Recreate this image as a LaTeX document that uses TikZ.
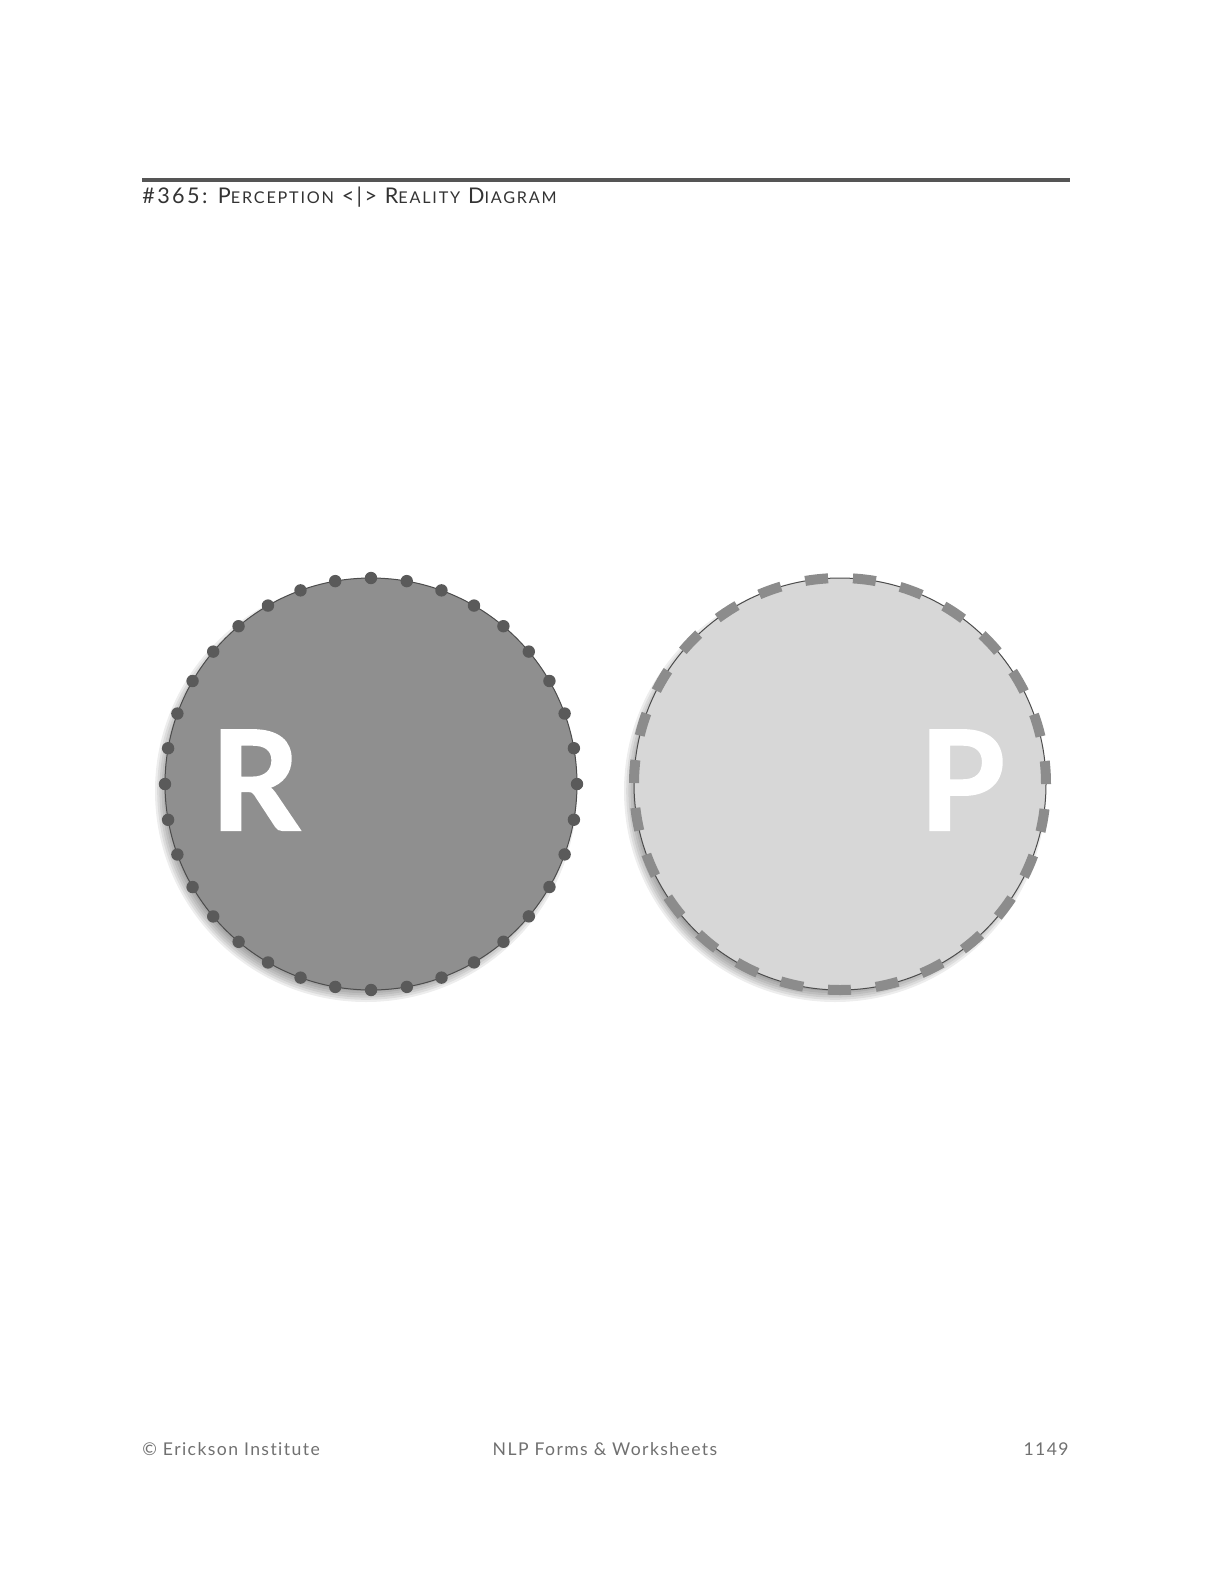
\documentclass[tikz,border=0pt]{standalone}
\usepackage{fontspec}
\setmainfont{Lato}
\newfontfamily\headfont[LetterSpace=11.0, Ligatures=NoCommon]{Lato}
\newfontfamily\footfont[LetterSpace=8.0, Ligatures=NoCommon]{Lato}
\newfontfamily\letterfont[FakeBold=1.6]{Lato}

\definecolor{rulegray}{HTML}{555555}
\definecolor{headgray}{HTML}{333333}
\definecolor{footgray}{HTML}{707070}
\definecolor{realfill}{HTML}{8F8F8F}
\definecolor{realdots}{HTML}{5A5A5A}
\definecolor{percfill}{HTML}{D7D7D7}
\definecolor{percdash}{HTML}{8C8C8C}

% fake small caps: big initial, small rest
\newcommand{\fsc}[2]{#1{\fontsize{8.1}{9}\selectfont #2}}

\begin{document}
\begin{tikzpicture}[x=0.5pt,y=-0.5pt]
		\tikzstyle{Disc}	= [circle, minimum size=206pt, inner sep=0pt, draw=black!70, line width=0.5pt]
		\tikzstyle{Shade}	= [black, opacity=0.07]
		\tikzstyle{Dots}	= [realdots, line width=6.2pt, line cap=round, dash pattern=on 0pt off 17.98pt]
		\tikzstyle{Dashes}	= [percdash, line width=5pt, dash pattern=on 11.5pt off 12.47pt]
		\tikzstyle{Letter}	= [anchor=base, inner sep=0pt, white, font=\letterfont\fontsize{69}{69}\selectfont\bfseries]
		\tikzstyle{Foot}	= [anchor=base, inner sep=0pt, footgray, font=\footfont\fontsize{8.8}{11}\selectfont]

		\useasboundingbox (0,0) rectangle (1224,1584);

		% header
		\coordinate (ruleL) at (142,180);
		\coordinate (ruleR) at (1070,180);
		\draw [rulegray, line width=2pt] (ruleL) -- (ruleR);
		\node (title) at (142,203) [anchor=base west, inner sep=0pt, headgray, font=\headfont\fontsize{10.8}{12}\selectfont]
			{\#365: \fsc{P}{ERCEPTION} <|> \fsc{R}{EALITY} \fsc{D}{IAGRAM}};

		% soft shadows
		\coordinate (rc) at (371,784);
		\coordinate (pc) at (840,784);
		\foreach \c in {rc,pc}
			\foreach \r in {0,...,5}
				\fill [Shade] ([xshift=-2.5pt,yshift=-3.5pt]\c) circle [radius=100pt+\r*1.1pt];

		% the two discs
		\node (reality) at (rc) [Disc, fill=realfill] {};
		\node (perception) at (pc) [Disc, fill=percfill] {};
		\draw [Dots] (reality.center) circle [radius=103pt];
		\draw [Dashes] (perception.center) circle [radius=103pt];

		\node (R) at (255,830) [Letter] {R};
		\node (P) at (962,830) [Letter] {P};

		% footer
		\node (copy) at (142,1455) [Foot, anchor=base west] {© Erickson Institute};
		\node (book) at (605,1455) [Foot] {NLP Forms \& Worksheets};
		\node (page) at (1069,1455) [Foot, anchor=base east] {1149};
	\end{tikzpicture}
\end{document}
